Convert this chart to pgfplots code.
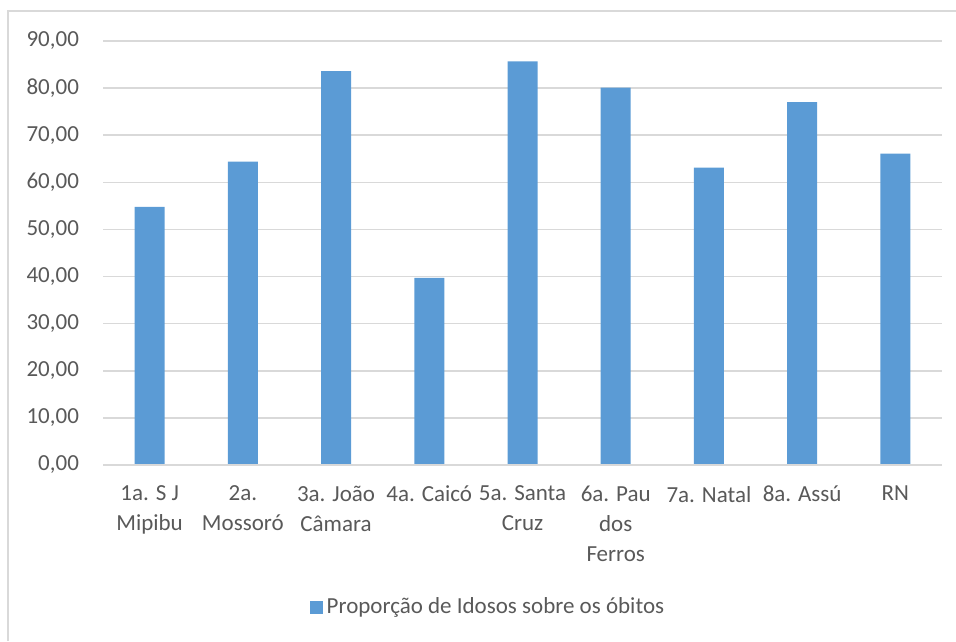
\documentclass[border=0pt]{standalone}
\usepackage{pgfplots}
\pgfplotsset{compat=1.18}
\usepackage{fontspec}
\setmainfont{Carlito}
\definecolor{barblue}{HTML}{5B9BD5}
\definecolor{gridgray}{HTML}{D9D9D9}
\definecolor{txtgray}{HTML}{595959}
\definecolor{framegray}{HTML}{D9D9D9}

\pgfplotstableread{
x  val
0  54.8
1  64.4
2  83.6
3  39.7
4  85.7
5  80.1
6  63.1
7  77.0
8  66.1
}\obitos

\begin{document}
\begin{tikzpicture}
\useasboundingbox (0,0) rectangle (478pt,320.5pt);
% chart area frame
\draw[framegray, line width=1pt] (4pt,0) -- (4pt,315pt) -- (478pt,315pt);
\begin{axis}[
  at={(51.5pt,88pt)}, anchor=south west,
  scale only axis, width=419.5pt, height=212pt,
  ymin=0, ymax=90, ytick={0,10,...,90},
  xmin=-0.5, xmax=8.5,
  xtick=data,
  xticklabels={{1a. S J\\Mipibu},{2a.\\Mossoró},{3a. João\\Câmara},{4a. Caicó},{5a. Santa\\Cruz},{6a. Pau\\dos\\Ferros},{7a. Natal},{8a. Assú},{RN}},
  x tick label style={align=center, font=\fontsize{11.5}{15}\selectfont, text=txtgray, yshift=-7pt},
  y tick label style={font=\fontsize{11.5}{14}\selectfont, text=txtgray, xshift=-8.5pt},
  /pgf/number format/assume math mode=true,
  yticklabel={\pgfmathprintnumber[fixed, fixed zerofill, precision=2, use comma]{\tick}},
  major tick length=0pt,
  axis line style={draw=none},
  ymajorgrids, grid style={gridgray, line width=0.8pt},
  axis on top=false,
  legend style={at={(0.46,-0.335)}, anchor=center, draw=none, fill=none,
    font=\fontsize{11.5}{14}\selectfont, text=txtgray,
    legend cell align=left},
  legend image code/.code={\fill[barblue] (0pt,-3.25pt) rectangle (6.5pt,3.25pt);},
]
\addplot[ybar, bar width=15pt, fill=barblue, draw=none] table[x=x, y=val] {\obitos};
\addlegendentry{Proporção de Idosos sobre os óbitos}
\draw[gridgray, line width=0.8pt] (axis cs:-0.5,0) -- (axis cs:8.5,0);
\end{axis}
\end{tikzpicture}
\end{document}
